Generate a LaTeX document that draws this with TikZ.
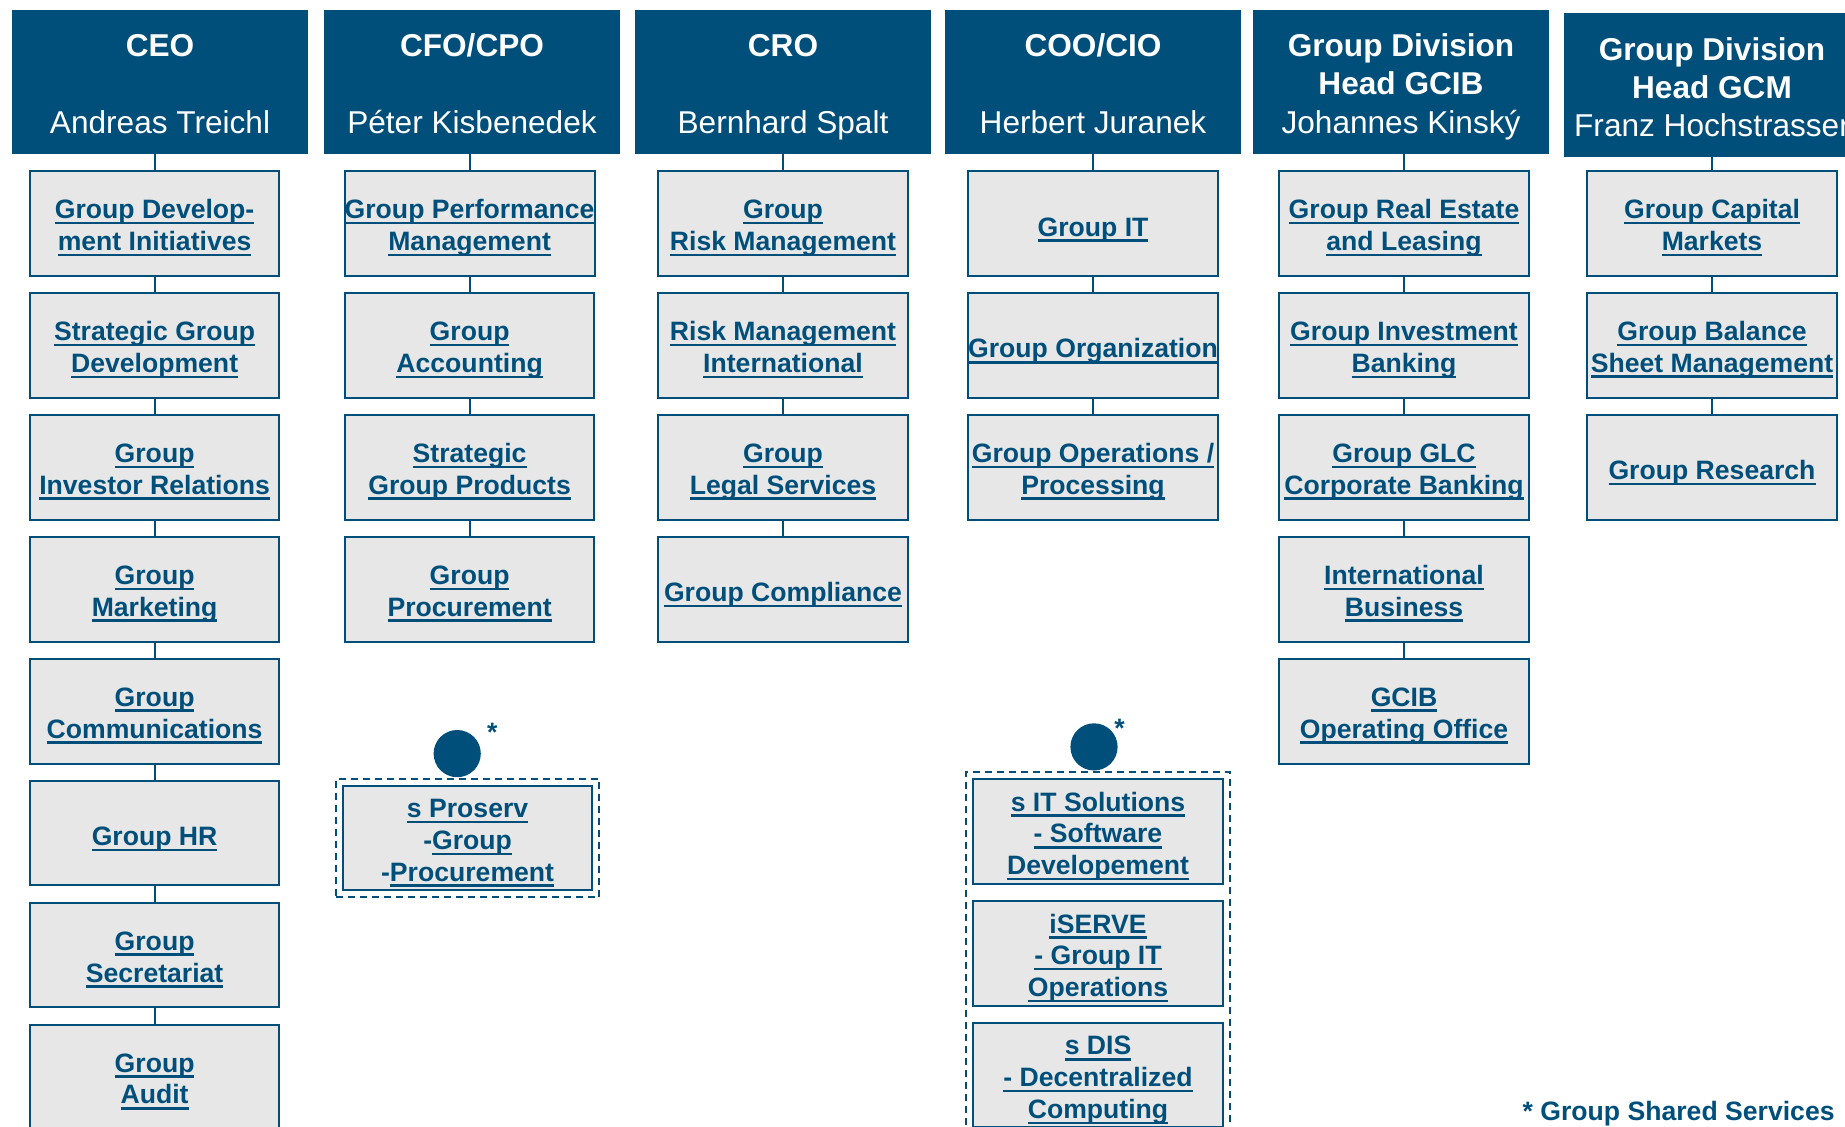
\documentclass[tikz,border=0pt]{standalone}
\usepackage{fontspec}
\setmainfont{Liberation Sans}
\usepackage{xcolor}
\definecolor{ersteBlue}{RGB}{0,79,123}
\definecolor{unitGray}{RGB}{231,231,231}
\usepackage{tikz}
\usetikzlibrary{positioning, fit}
\newcommand{\lnk}[1]{\setbox0\hbox{#1}\rlap{\rule[-2.8pt]{\wd0}{1.3pt}}\box0}

\begin{document}
\begin{tikzpicture}[x=0.5pt, y=-0.5pt, node distance=8.6pt,
  head/.style={fill=ersteBlue, text=white, minimum width=148pt, minimum height=72pt, inner sep=0pt, outer sep=0pt, align=center, font=\fontsize{15.8}{19.1}\selectfont, text height=55.2pt, text depth=4pt},
  unit/.style={draw=ersteBlue, line width=1pt, fill=unitGray, text=ersteBlue, minimum width=124.75pt, minimum height=52.35pt, inner sep=0pt, outer sep=0pt, align=center, font=\bfseries\fontsize{13.3}{15.9}\selectfont, text height=16pt, text depth=3.5pt},
  two/.style={text height=30.6pt},
  three/.style={text height=47pt},
  wire/.style={ersteBlue, line width=1pt},
  shared/.style={draw=ersteBlue, line width=1pt, dash pattern=on 3.5pt off 2.5pt, inner sep=3.5pt},
  dot/.style={circle, fill=ersteBlue, minimum size=23.6pt, inner sep=0pt, anchor=south},
  starmark/.style={text=ersteBlue, font=\bfseries\fontsize{13.3}{15.9}\selectfont, inner sep=0pt}]
  \useasboundingbox (0,0) rectangle (1845,1127);

  % board members
  \node[head] (h1) at (160,82) {\textbf{CEO}\\[19pt]Andreas Treichl};
  \node[head] (h2) at (472,82) {\textbf{CFO/CPO}\\[19pt]Péter Kisbenedek};
  \node[head] (h3) at (783,82) {\textbf{CRO}\\[19pt]Bernhard Spalt};
  \node[head] (h4) at (1093,82) {\textbf{COO/CIO}\\[19pt]Herbert Juranek};
  \node[head] (h5) at (1401,82) {\textbf{Group Division}\\\textbf{Head GCIB}\\Johannes Kinský};
  \node[head] (h6) at (1712,85.5) {\textbf{Group Division}\\\textbf{Head GCM}\\Franz Hochstrasser};

  % CEO
  \node[unit, two, below=of h1, xshift=-2.7pt] (c1a) {\lnk{Group Develop-}\\\lnk{ment Initiatives}};
  \node[unit, two, below=of c1a] (c1b) {\lnk{Strategic Group}\\\lnk{Development}};
  \node[unit, two, below=of c1b] (c1c) {\lnk{Group}\\\lnk{Investor Relations}};
  \node[unit, two, below=of c1c] (c1d) {\lnk{Group}\\\lnk{Marketing}};
  \node[unit, two, below=of c1d] (c1e) {\lnk{Group}\\\lnk{Communications}};
  \node[unit, below=of c1e] (c1f) {\lnk{Group HR}};
  \node[unit, two, below=of c1f] (c1g) {\lnk{Group}\\\lnk{Secretariat}};
  \node[unit, two, below=of c1g] (c1h) {\lnk{Group}\\\lnk{Audit}};
  \draw[wire] (h1.south -| c1a) -- (c1a) -- (c1b) -- (c1c) -- (c1d) -- (c1e) -- (c1f) -- (c1g) -- (c1h);

  % CFO/CPO
  \node[unit, two, below=of h2, xshift=-1.2pt] (c2a) {\lnk{Group Performance}\\\lnk{Management}};
  \node[unit, two, below=of c2a] (c2b) {\lnk{Group}\\\lnk{Accounting}};
  \node[unit, two, below=of c2b] (c2c) {\lnk{Strategic}\\\lnk{Group Products}};
  \node[unit, two, below=of c2c] (c2d) {\lnk{Group}\\\lnk{Procurement}};
  \draw[wire] (h2.south -| c2a) -- (c2a) -- (c2b) -- (c2c) -- (c2d);
  \node[unit, three, below=72pt of c2d, xshift=-1pt] (p2) {\lnk{s Proserv}\\-\lnk{Group}\\-\lnk{Procurement}};
  \node[shared, fit=(p2)] (g2) {};
  \node[dot, xshift=-5.2pt] (d2) at (g2.north) {};
  \node[starmark] (st2) at ([shift={(17.5pt,10.8pt)}]d2.center) {*};

  % CRO
  \node[unit, two, below=of h3] (c3a) {\lnk{Group}\\\lnk{Risk Management}};
  \node[unit, two, below=of c3a] (c3b) {\lnk{Risk Management}\\\lnk{International}};
  \node[unit, two, below=of c3b] (c3c) {\lnk{Group}\\\lnk{Legal Services}};
  \node[unit, below=of c3c] (c3d) {\lnk{Group Compliance}};
  \draw[wire] (h3) -- (c3a) -- (c3b) -- (c3c) -- (c3d);

  % COO/CIO
  \node[unit, below=of h4] (c4a) {\lnk{Group IT}};
  \node[unit, below=of c4a] (c4b) {\lnk{Group Organization}};
  \node[unit, two, below=of c4b] (c4c) {\lnk{Group Operations /}\\\lnk{Processing}};
  \draw[wire] (h4) -- (c4a) -- (c4b) -- (c4c);
  \node[unit, three, below=129.6pt of c4c, xshift=2.5pt] (s4a) {\lnk{s IT Solutions}\\\lnk{- Software}\\\lnk{Developement}};
  \node[unit, three, below=of s4a] (s4b) {\lnk{iSERVE}\\\lnk{- Group IT}\\\lnk{Operations}};
  \node[unit, three, below=of s4b] (s4c) {\lnk{s DIS}\\\lnk{- Decentralized}\\\lnk{Computing}};
  \node[shared, fit=(s4a)(s4c)] (g4) {};
  \node[dot, xshift=-2pt] (d4) at (g4.north) {};
  \node[starmark] (st4) at ([shift={(12.8pt,9.4pt)}]d4.center) {*};

  % GCIB
  \node[unit, two, below=of h5, xshift=1.5pt] (c5a) {\lnk{Group Real Estate}\\\lnk{and Leasing}};
  \node[unit, two, below=of c5a] (c5b) {\lnk{Group Investment}\\\lnk{Banking}};
  \node[unit, two, below=of c5b] (c5c) {\lnk{Group GLC}\\\lnk{Corporate Banking}};
  \node[unit, two, below=of c5c] (c5d) {\lnk{International}\\\lnk{Business}};
  \node[unit, two, below=of c5d] (c5e) {\lnk{GCIB}\\\lnk{Operating Office}};
  \draw[wire] (h5.south -| c5a) -- (c5a) -- (c5b) -- (c5c) -- (c5d) -- (c5e);

  % GCM
  \node[unit, two, below=6.8pt of h6] (c6a) {\lnk{Group Capital}\\\lnk{Markets}};
  \node[unit, two, below=of c6a] (c6b) {\lnk{Group Balance}\\\lnk{Sheet Management}};
  \node[unit, below=of c6b] (c6c) {\lnk{Group Research}};
  \draw[wire] (h6) -- (c6a) -- (c6b) -- (c6c);

  \node[starmark, anchor=base east] (note) at (1835,1120) {* Group Shared Services};
\end{tikzpicture}
\end{document}
